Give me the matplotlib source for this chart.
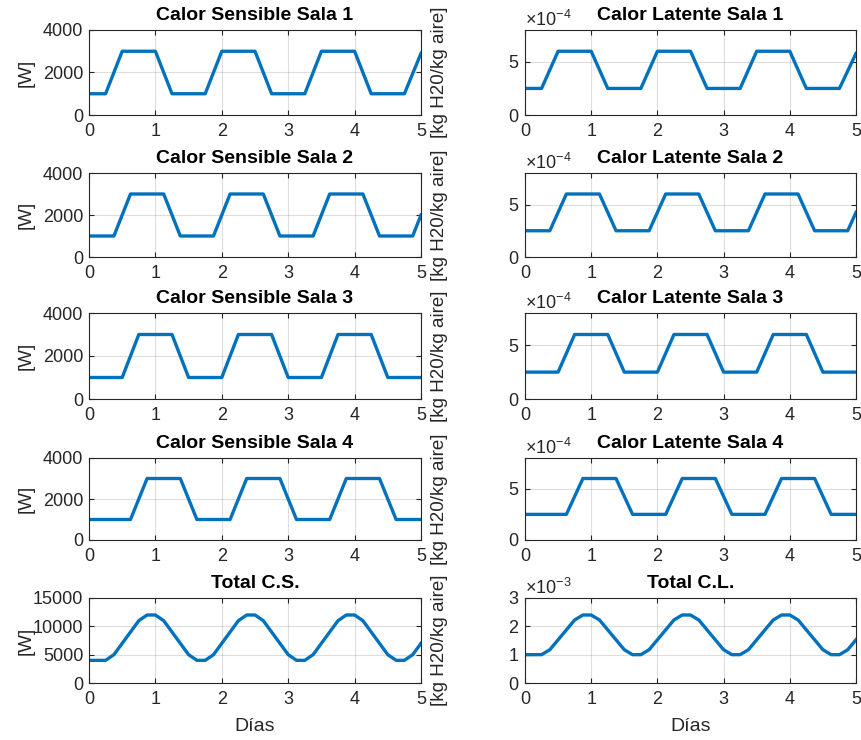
import matplotlib
matplotlib.use("Agg")
import matplotlib.pyplot as plt
import numpy as np
from matplotlib.ticker import ScalarFormatter, MultipleLocator

plt.rcParams['font.family'] = ['Liberation Sans', 'DejaVu Sans']
plt.rcParams['mathtext.fontset'] = 'custom'
plt.rcParams['mathtext.rm'] = 'Liberation Sans'
plt.rcParams['mathtext.it'] = 'Liberation Sans:italic'

# ---------------- data ----------------
# breakpoints (days) for each room
t_sala1 = [0, 0.25, 0.5, 1.0, 1.25, 1.75, 2.0, 2.5, 2.75, 3.25, 3.5, 4.0, 4.25, 4.75, 5.0]
t_sala2 = [0, 0.375, 0.625, 1.125, 1.375, 1.875, 2.125, 2.625, 2.875, 3.375, 3.625, 4.125, 4.375, 4.875, 5.0]
t_sala3 = [0, 0.5, 0.75, 1.25, 1.5, 2.0, 2.25, 2.75, 3.0, 3.5, 3.75, 4.25, 4.5, 5.0]
t_sala4 = [0, 0.625, 0.875, 1.375, 1.625, 2.125, 2.375, 2.875, 3.125, 3.625, 3.875, 4.375, 4.625, 5.0]

cs_sala1 = [1000, 1000, 3000, 3000, 1000, 1000, 3000, 3000, 1000, 1000, 3000, 3000, 1000, 1000, 2900]
cs_sala2 = [1000, 1000, 3000, 3000, 1000, 1000, 3000, 3000, 1000, 1000, 3000, 3000, 1000, 1000, 2000]
cs_sala3 = [1000, 1000, 3000, 3000, 1000, 1000, 3000, 3000, 1000, 1000, 3000, 3000, 1000, 1000]
cs_sala4 = [1000, 1000, 3000, 3000, 1000, 1000, 3000, 3000, 1000, 1000, 3000, 3000, 1000, 1000]

cl_sala1 = [2.5e-4, 2.5e-4, 6e-4, 6e-4, 2.5e-4, 2.5e-4, 6e-4, 6e-4, 2.5e-4, 2.5e-4, 6e-4, 6e-4, 2.5e-4, 2.5e-4, 5.8e-4]
cl_sala2 = [2.5e-4, 2.5e-4, 6e-4, 6e-4, 2.5e-4, 2.5e-4, 6e-4, 6e-4, 2.5e-4, 2.5e-4, 6e-4, 6e-4, 2.5e-4, 2.5e-4, 4.25e-4]
cl_sala3 = [2.5e-4, 2.5e-4, 6e-4, 6e-4, 2.5e-4, 2.5e-4, 6e-4, 6e-4, 2.5e-4, 2.5e-4, 6e-4, 6e-4, 2.5e-4, 2.5e-4]
cl_sala4 = [2.5e-4, 2.5e-4, 6e-4, 6e-4, 2.5e-4, 2.5e-4, 6e-4, 6e-4, 2.5e-4, 2.5e-4, 6e-4, 6e-4, 2.5e-4, 2.5e-4]

# totals sampled every 0.125 days
t_total = [0.0, 0.125, 0.25, 0.375, 0.5, 0.625, 0.75, 0.875, 1.0, 1.125, 1.25, 1.375, 1.5, 1.625,
           1.75, 1.875, 2.0, 2.125, 2.25, 2.375, 2.5, 2.625, 2.75, 2.875, 3.0, 3.125, 3.25, 3.375,
           3.5, 3.625, 3.75, 3.875, 4.0, 4.125, 4.25, 4.375, 4.5, 4.625, 4.75, 4.875, 5.0]
cs_total = [4000, 4000, 4000, 5000, 7000, 9000, 11000, 12000, 12000, 11000, 9000, 7000, 5000, 4000,
            4000, 5000, 7000, 9000, 11000, 12000, 12000, 11000, 9000, 7000, 5000, 4000, 4000, 5000,
            7000, 9000, 11000, 12000, 12000, 11000, 9000, 7000, 5000, 4000, 4000, 5000, 7000]
cl_total = [1.0e-3, 1.0e-3, 1.0e-3, 1.175e-3, 1.525e-3, 1.875e-3, 2.225e-3, 2.4e-3, 2.4e-3, 2.225e-3,
            1.875e-3, 1.525e-3, 1.175e-3, 1.0e-3, 1.0e-3, 1.175e-3, 1.525e-3, 1.875e-3, 2.225e-3,
            2.4e-3, 2.4e-3, 2.225e-3, 1.875e-3, 1.525e-3, 1.175e-3, 1.0e-3, 1.0e-3, 1.175e-3,
            1.525e-3, 1.875e-3, 2.225e-3, 2.4e-3, 2.4e-3, 2.225e-3, 1.875e-3, 1.525e-3, 1.175e-3,
            1.0e-3, 1.0e-3, 1.175e-3, 1.525e-3]

titles_cs = ["Calor Sensible Sala 1", "Calor Sensible Sala 2", "Calor Sensible Sala 3",
             "Calor Sensible Sala 4", "Total C.S."]
titles_cl = ["Calor Latente Sala 1", "Calor Latente Sala 2", "Calor Latente Sala 3",
             "Calor Latente Sala 4", "Total C.L."]
ylabel_cs = "[W]"
ylabel_cl = "[kg H20/kg aire]"
xlabel = "Días"

# ---------------- figure ----------------
W, H = 862, 740
fig = plt.figure(figsize=(W / 100, H / 100), dpi=100)

rows_px = [(30, 115), (173, 257), (313, 399), (458, 540), (598, 683)]
col_px = [(89, 421), (525, 856)]

line_color = "#0072BD"
tick_color = "#262626"

left_series = [(t_sala1, cs_sala1), (t_sala2, cs_sala2), (t_sala3, cs_sala3), (t_sala4, cs_sala4),
               (t_total, cs_total)]
right_series = [(t_sala1, cl_sala1), (t_sala2, cl_sala2), (t_sala3, cl_sala3), (t_sala4, cl_sala4),
                (t_total, cl_total)]


def style(ax):
    ax.set_xlim(0, 5)
    ax.xaxis.set_major_locator(MultipleLocator(1))
    ax.grid(True, color="#262626", alpha=0.15, linewidth=0.8)
    ax.set_axisbelow(True)
    for s in ax.spines.values():
        s.set_color(tick_color)
        s.set_linewidth(0.8)
    ax.tick_params(direction="in", top=True, right=True, colors=tick_color,
                   labelcolor=tick_color, labelsize=13, length=3.5, width=0.8)
    ax.tick_params(axis="x", pad=6)
    ax.tick_params(axis="y", pad=4)


for i in range(5):
    y0, y1 = rows_px[i]
    # left column
    x0, x1 = col_px[0]
    ax = fig.add_axes([x0 / W, 1 - y1 / H, (x1 - x0) / W, (y1 - y0) / H])
    t, v = left_series[i]
    ax.plot(t, v, color=line_color, linewidth=2.4, solid_joinstyle="round")
    style(ax)
    if i < 4:
        ax.set_ylim(0, 4000)
        ax.yaxis.set_major_locator(MultipleLocator(2000))
    else:
        ax.set_ylim(0, 15000)
        ax.yaxis.set_major_locator(MultipleLocator(5000))
    ax.set_title(titles_cs[i], fontsize=14, fontweight="bold", pad=7)
    ax.set_ylabel(ylabel_cs, fontsize=13.5, color=tick_color)
    ax.yaxis.set_label_coords(-0.165, 0.5)
    if i == 4:
        ax.set_xlabel(xlabel, fontsize=14, color=tick_color, labelpad=7)

    # right column
    x0, x1 = col_px[1]
    ax = fig.add_axes([x0 / W, 1 - y1 / H, (x1 - x0) / W, (y1 - y0) / H])
    t, v = right_series[i]
    ax.plot(t, v, color=line_color, linewidth=2.4, solid_joinstyle="round")
    style(ax)
    fmt = ScalarFormatter(useMathText=True)
    fmt.set_powerlimits((0, 0))
    ax.yaxis.set_major_formatter(fmt)
    if i < 4:
        ax.set_ylim(0, 8e-4)
        ax.yaxis.set_major_locator(MultipleLocator(5e-4))
    else:
        ax.set_ylim(0, 3e-3)
        ax.yaxis.set_major_locator(MultipleLocator(1e-3))
    ax.yaxis.get_offset_text().set_fontsize(13)
    ax.yaxis.get_offset_text().set_color(tick_color)
    ax.set_title(titles_cl[i], fontsize=14, fontweight="bold", pad=7)
    ax.set_ylabel(ylabel_cl, fontsize=13.5, color=tick_color)
    ax.yaxis.set_label_coords(-0.232, 0.5)
    if i == 4:
        ax.set_xlabel(xlabel, fontsize=14, color=tick_color, labelpad=7)

fig.savefig("out.png", dpi=100)
